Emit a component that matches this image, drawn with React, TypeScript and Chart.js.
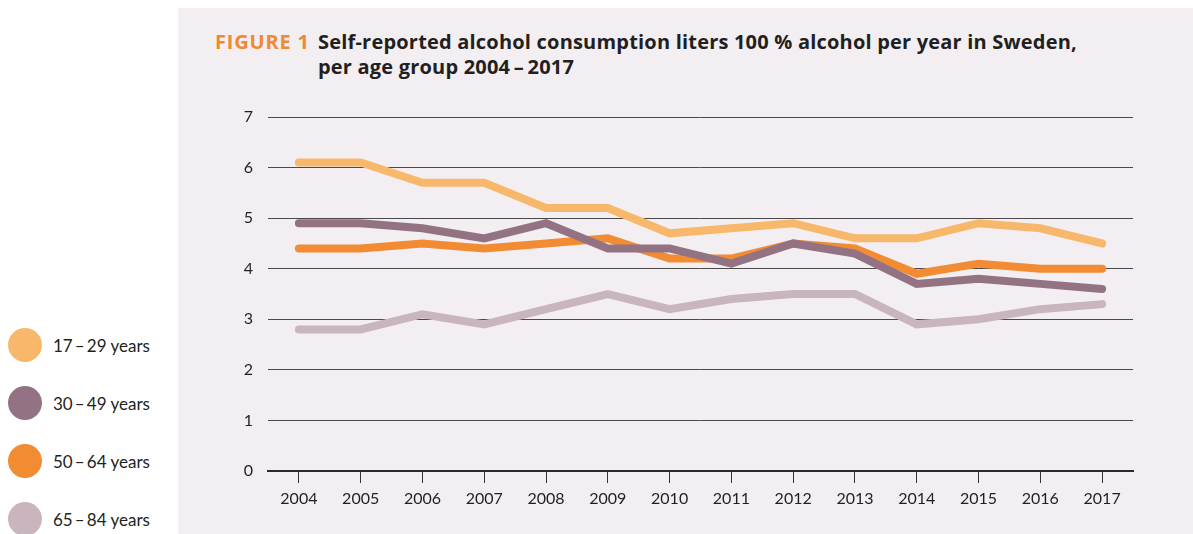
import React, { useEffect, useRef } from "react";
import { Chart, registerables } from "chart.js";

Chart.register(...registerables);

const years = ["2004", "2005", "2006", "2007", "2008", "2009", "2010", "2011", "2012", "2013", "2014", "2015", "2016", "2017"];
const age17to29 = [6.1, 6.1, 5.7, 5.7, 5.2, 5.2, 4.7, 4.8, 4.9, 4.6, 4.6, 4.9, 4.8, 4.5];
const age30to49 = [4.9, 4.9, 4.8, 4.6, 4.9, 4.4, 4.4, 4.1, 4.5, 4.3, 3.7, 3.8, 3.7, 3.6];
const age50to64 = [4.4, 4.4, 4.5, 4.4, 4.5, 4.6, 4.2, 4.2, 4.5, 4.4, 3.9, 4.1, 4.0, 4.0];
const age65to84 = [2.8, 2.8, 3.1, 2.9, 3.2, 3.5, 3.2, 3.4, 3.5, 3.5, 2.9, 3.0, 3.2, 3.3];
const seriesLabels = ["17\u2009–\u200929 years", "30\u2009–\u200949 years", "50\u2009–\u200964 years", "65\u2009–\u200984 years"];
const seriesColors = ["#f8b86c", "#937383", "#f18c33", "#c9b5be"];
const yTicks = [0, 1, 2, 3, 4, 5, 6, 7];

const FONT = "Lato, 'Noto Sans', sans-serif";
const TITLE_FONT = "'Open Sans', 'Noto Sans', sans-serif";
const TEXT = "#231f20";

export default function App() {
  const ref = useRef<HTMLCanvasElement | null>(null);

  useEffect(() => {
    if (!ref.current) return;
    const values = [age17to29, age30to49, age50to64, age65to84];
    const chart = new Chart(ref.current, {
      type: "line",
      data: {
        labels: years,
        datasets: values.map((v, i) => ({
          label: seriesLabels[i],
          data: v,
          borderColor: seriesColors[i],
          backgroundColor: seriesColors[i],
          borderWidth: 8,
          borderCapStyle: "round" as const,
          borderJoinStyle: "miter" as const,
          pointRadius: 0,
          tension: 0,
          fill: false,
        })),
      },
      options: {
        animation: false,
        responsive: false,
        maintainAspectRatio: false,
        layout: { padding: { left: 50, right: 60, top: 109, bottom: 0 } },
        plugins: {
          legend: { display: false },
          title: { display: false },
          tooltip: { enabled: false },
        },
        scales: {
          x: {
            type: "category",
            offset: true,
            grid: {
              offset: false,
              drawOnChartArea: false,
              drawTicks: true,
              tickLength: 12,
              tickColor: "#333",
              tickWidth: 1,
            },
            border: { display: true, color: "#2a2a2a", width: 2 },
            ticks: {
              color: TEXT,
              font: { family: FONT, size: 16 },
              padding: 6,
              maxRotation: 0,
              autoSkip: false,
            },
            afterFit: (scale: any) => {
              scale.height = 63;
            },
          },
          y: {
            min: 0,
            max: 7,
            afterBuildTicks: (scale: any) => {
              scale.ticks = yTicks.map((v) => ({ value: v }));
            },
            grid: {
              color: "#4a4a4a",
              lineWidth: 1,
              drawTicks: false,
            },
            border: { display: false },
            ticks: {
              color: TEXT,
              font: { family: FONT, size: 16 },
              padding: 15,
            },
            afterFit: (scale: any) => {
              scale.width = 40;
            },
          },
        },
      },
    });
    return () => chart.destroy();
  }, []);

  const legendTops = [345, 403, 461, 519];

  return (
    <div style={{ position: "absolute", left: 0, top: 0, width: 1193, height: 534, background: "#ffffff", overflow: "hidden", fontFamily: FONT }}>
      <div style={{ position: "absolute", left: 178, top: 8, width: 1015, height: 526, background: "#f2eef1" }} />
      <div style={{ position: "absolute", left: 215, top: 29, fontFamily: TITLE_FONT, fontSize: 20, fontWeight: 700, color: "#f08a32", lineHeight: "25px", whiteSpace: "nowrap", letterSpacing: "0.8px" }}>
        FIGURE 1
      </div>
      <div style={{ position: "absolute", left: 318, top: 29, fontFamily: TITLE_FONT, fontSize: 20, fontWeight: 700, color: TEXT, lineHeight: "25px", whiteSpace: "nowrap", letterSpacing: "0.2px" }}>
        Self-reported alcohol consumption liters 100 % alcohol per year in Sweden,
        <br />
        per age group 2004{"\u2009–\u2009"}2017
      </div>
      <canvas ref={ref} width={1015} height={526} style={{ position: "absolute", left: 178, top: 8, width: 1015, height: 526 }} />
      {seriesLabels.map((lab, i) => (
        <div key={lab} style={{ position: "absolute", left: 8, top: legendTops[i] - 17, height: 34, display: "flex", alignItems: "center" }}>
          <div style={{ width: 34, height: 34, borderRadius: 17, background: seriesColors[i] }} />
          <span style={{ marginLeft: 11, fontSize: 17, color: TEXT, whiteSpace: "nowrap" }}>{lab}</span>
        </div>
      ))}
    </div>
  );
}
